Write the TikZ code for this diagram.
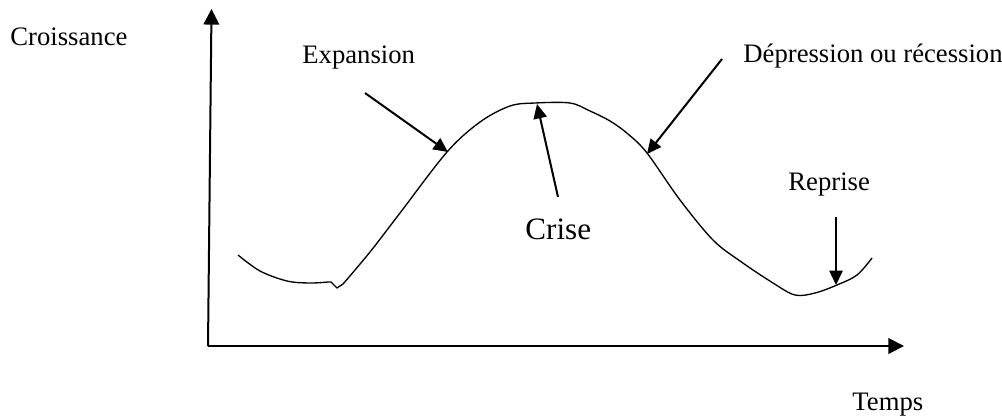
\documentclass[tikz,border=0pt]{standalone}
\usepackage{fontspec}
\setmainfont{Liberation Serif}
\usetikzlibrary{arrows.meta}
\begin{document}
\begin{tikzpicture}[x=0.45pt,y=-0.45pt,
  lbl/.style={inner sep=0pt,anchor=base west,font=\fontsize{12pt}{14pt}\selectfont},
  biglbl/.style={inner sep=0pt,anchor=base west,font=\fontsize{14pt}{16pt}\selectfont},
  axis/.style={line width=0.9pt,-{Triangle[length=7pt,width=7pt]}},
  pointer/.style={line width=0.9pt,-{Triangle[length=6.5pt,width=6pt]}},
  curve/.style={line width=0.6pt,line join=round}]
\useasboundingbox (0,0) rectangle (1002,417);
% axes
\coordinate (O) at (208,346);
\coordinate (Ytop) at (211.5,9);
\coordinate (Xend) at (904,346);
\draw[axis] (O) -- (Ytop);
\draw[axis] (O) -- (Xend);
% curve
\draw[curve] plot[smooth,tension=0.55] coordinates {(238,255) (260,271) (287,281) (310,283) (328,282)}
  -- (331,282) -- (337,288) -- (343,284)
  plot[smooth,tension=0.55] coordinates {(343,284) (370,252) (400,213) (447,152) (480,122) (510,106) (535,103) (570,103) (590,111) (610,121) (628,134) (647,153) (680,200) (713,240) (740,261) (773,283) (795,295) (815,293) (837,285) (857,275) (872,258)};
% labels
\node[lbl] (croissance) at (10,45) {Croissance};
\node[lbl] (expansion) at (302,63) {Expansion};
\node[lbl] (depression) at (743,62) {Dépression ou récession};
\node[biglbl] (crise) at (525,239) {Crise};
\node[lbl] (reprise) at (788,190) {Reprise};
\node[lbl] (temps) at (852,410) {Temps};
% pointer ends
\coordinate (expS) at (365,93);
\coordinate (expT) at (448,152);
\coordinate (criS) at (558,197);
\coordinate (criT) at (537,104);
\coordinate (depS) at (722,59);
\coordinate (depT) at (647,154);
\coordinate (repS) at (836,217);
\coordinate (repT) at (836,285);
\draw[pointer] (expS) -- (expT);
\draw[pointer] (criS) -- (criT);
\draw[pointer] (depS) -- (depT);
\draw[pointer] (repS) -- (repT);
\end{tikzpicture}
\end{document}
